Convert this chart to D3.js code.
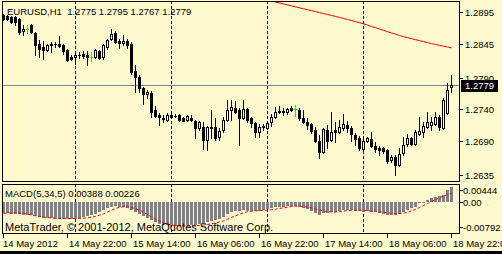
<!DOCTYPE html>
<html>
<head>
<meta charset="utf-8">
<script src="https://cdn.jsdelivr.net/npm/d3@7"></script>
<style>
  body { margin: 0; background: #fffacd; }
  svg text { font-family: "Liberation Sans", Arial, sans-serif; }
</style>
</head>
<body>
<div id="chart"></div>
<script>
// EURUSD H1, bar 0 = 14 May 2012 06:00, one bar per hour
const opens = [1.2891,1.2889,1.2888,1.2888,1.2885,1.2865,1.2869,1.2875,1.2862,1.2845,
  1.2840,1.2835,1.2845,1.2845,1.2845,1.2843,1.2835,1.2824,1.2824,1.2827,
  1.2829,1.2827,1.2824,1.2824,1.2833,1.2824,1.2840,1.2853,1.2862,1.2849,
  1.2846,1.2849,1.2845,1.2801,1.2792,1.2774,1.2765,1.2766,1.2739,1.2731,
  1.2726,1.2723,1.2731,1.2730,1.2731,1.2726,1.2723,1.2726,1.2721,1.2710,
  1.2712,1.2691,1.2712,1.2712,1.2696,1.2707,1.2723,1.2739,1.2742,1.2739,
  1.2726,1.2741,1.2726,1.2718,1.2704,1.2712,1.2710,1.2720,1.2728,1.2736,
  1.2737,1.2736,1.2742,1.2741,1.2739,1.2726,1.2720,1.2717,1.2707,1.2689,
  1.2672,1.2707,1.2691,1.2707,1.2704,1.2710,1.2715,1.2710,1.2699,1.2694,
  1.2677,1.2690,1.2692,1.2681,1.2678,1.2678,1.2675,1.2659,1.2663,1.2651,
  1.2670,1.2685,1.2694,1.2685,1.2701,1.2704,1.2712,1.2715,1.2717,1.2728,
  1.2710,1.2734,1.2775];
const highs = [1.2893,1.2891,1.2889,1.2889,1.2886,1.2875,1.2875,1.2877,1.2864,1.2851,
  1.2849,1.2845,1.2848,1.2848,1.2857,1.2845,1.2837,1.2827,1.2832,1.2832,
  1.2833,1.2833,1.2832,1.2837,1.2835,1.2845,1.2853,1.2869,1.2865,1.2853,
  1.2859,1.2853,1.2848,1.2811,1.2795,1.2775,1.2771,1.2769,1.2745,1.2734,
  1.2731,1.2734,1.2734,1.2733,1.2733,1.2728,1.2731,1.2731,1.2723,1.2721,
  1.2720,1.2713,1.2739,1.2726,1.2710,1.2728,1.2755,1.2755,1.2753,1.2742,
  1.2755,1.2742,1.2728,1.2720,1.2717,1.2717,1.2720,1.2733,1.2744,1.2745,
  1.2742,1.2742,1.2745,1.2747,1.2742,1.2739,1.2726,1.2718,1.2712,1.2699,
  1.2710,1.2715,1.2735,1.2720,1.2723,1.2733,1.2721,1.2713,1.2702,1.2697,
  1.2694,1.2695,1.2704,1.2688,1.2681,1.2680,1.2676,1.2667,1.2667,1.2678,
  1.2696,1.2701,1.2696,1.2707,1.2727,1.2720,1.2736,1.2728,1.2735,1.2731,
  1.2758,1.2782,1.2795];
const lows = [1.2883,1.2883,1.2878,1.2875,1.2861,1.2859,1.2862,1.2862,1.2827,1.2824,
  1.2821,1.2833,1.2832,1.2840,1.2840,1.2829,1.2817,1.2819,1.2813,1.2822,
  1.2822,1.2811,1.2817,1.2822,1.2821,1.2821,1.2837,1.2851,1.2846,1.2838,
  1.2843,1.2838,1.2797,1.2768,1.2768,1.2749,1.2758,1.2728,1.2727,1.2715,
  1.2720,1.2721,1.2726,1.2728,1.2721,1.2721,1.2721,1.2721,1.2694,1.2707,
  1.2677,1.2675,1.2694,1.2691,1.2691,1.2704,1.2721,1.2723,1.2734,1.2683,
  1.2725,1.2720,1.2712,1.2696,1.2696,1.2707,1.2709,1.2713,1.2726,1.2734,
  1.2731,1.2733,1.2737,1.2729,1.2723,1.2718,1.2709,1.2702,1.2688,1.2662,
  1.2670,1.2678,1.2690,1.2688,1.2702,1.2707,1.2703,1.2690,1.2683,1.2675,
  1.2670,1.2688,1.2679,1.2672,1.2667,1.2670,1.2654,1.2656,1.2635,1.2649,
  1.2667,1.2681,1.2683,1.2683,1.2699,1.2696,1.2710,1.2707,1.2715,1.2707,
  1.2708,1.2733,1.2767];
const closes = [1.2885,1.2885,1.2880,1.2880,1.2864,1.2869,1.2869,1.2864,1.2843,1.2837,
  1.2835,1.2843,1.2843,1.2844,1.2841,1.2833,1.2819,1.2821,1.2827,1.2826,
  1.2825,1.2824,1.2824,1.2835,1.2822,1.2843,1.2851,1.2861,1.2848,1.2846,
  1.2849,1.2843,1.2800,1.2792,1.2774,1.2765,1.2768,1.2736,1.2729,1.2728,
  1.2725,1.2731,1.2728,1.2729,1.2723,1.2722,1.2729,1.2723,1.2710,1.2720,
  1.2691,1.2712,1.2710,1.2694,1.2705,1.2723,1.2739,1.2744,1.2736,1.2726,
  1.2741,1.2723,1.2718,1.2704,1.2712,1.2713,1.2718,1.2728,1.2736,1.2737,
  1.2736,1.2741,1.2739,1.2741,1.2726,1.2720,1.2715,1.2705,1.2690,1.2672,
  1.2708,1.2690,1.2704,1.2703,1.2712,1.2717,1.2710,1.2701,1.2693,1.2678,
  1.2690,1.2694,1.2681,1.2676,1.2675,1.2674,1.2658,1.2664,1.2651,1.2669,
  1.2683,1.2694,1.2685,1.2704,1.2706,1.2713,1.2720,1.2720,1.2728,1.2711,
  1.2755,1.2771,1.2779];

// moving average, visible part from bar 60 on (earlier values are above the window)
const maFirstBar = 60;
const maValues = [1.29238,1.29222,1.29206,1.2919,1.29174,1.29158,1.29144,1.29129,1.29113,1.29099,
  1.29083,1.29068,1.29052,1.29038,1.29022,1.29006,1.28992,1.28976,1.28961,1.28945,
  1.28931,1.28915,1.28899,1.28884,1.28868,1.28852,1.28835,1.28819,1.28801,1.28784,
  1.28766,1.28745,1.28724,1.28704,1.28683,1.28662,1.28641,1.2862,1.286,1.28579,
  1.28561,1.28545,1.28529,1.28513,1.28497,1.28481,1.28465,1.28451,1.28436,1.28422,
  1.28409,1.28396,1.28382];

// MACD(5,34,5)
const macdMain = [-0.00292,-0.00300,-0.00305,-0.00310,-0.00318,-0.00331,-0.00337,-0.00345,-0.00371,-0.00397,
  -0.00410,-0.00423,-0.00431,-0.00437,-0.00437,-0.00437,-0.00442,-0.00442,-0.00437,-0.00423,
  -0.00397,-0.00371,-0.00345,-0.00305,-0.00266,-0.00213,-0.00160,-0.00121,-0.00108,-0.00121,
  -0.00134,-0.00147,-0.00213,-0.00266,-0.00318,-0.00371,-0.00410,-0.00476,-0.00529,-0.00568,
  -0.00594,-0.00608,-0.00615,-0.00621,-0.00621,-0.00608,-0.00594,-0.00594,-0.00594,-0.00568,
  -0.00555,-0.00529,-0.00502,-0.00476,-0.00437,-0.00384,-0.00318,-0.00266,-0.00239,-0.00239,
  -0.00213,-0.00226,-0.00239,-0.00239,-0.00226,-0.00213,-0.00187,-0.00160,-0.00134,-0.00121,
  -0.00121,-0.00108,-0.00108,-0.00108,-0.00134,-0.00160,-0.00187,-0.00226,-0.00292,-0.00331,
  -0.00292,-0.00292,-0.00266,-0.00252,-0.00239,-0.00213,-0.00213,-0.00213,-0.00226,-0.00239,
  -0.00252,-0.00239,-0.00252,-0.00266,-0.00279,-0.00305,-0.00331,-0.00345,-0.00345,-0.00305,
  -0.00252,-0.00213,-0.00168,-0.00126,-0.00037,-0.00011,0.00050,0.00095,0.00137,0.00155,
  0.00181,0.00313,0.00388];
const macdSignal = [-0.00300,-0.00292,-0.00287,-0.00284,-0.00292,-0.00305,-0.00323,-0.00345,-0.00366,-0.00384,
  -0.00397,-0.00410,-0.00423,-0.00431,-0.00437,-0.00439,-0.00439,-0.00439,-0.00437,-0.00434,
  -0.00429,-0.00418,-0.00402,-0.00384,-0.00352,-0.00313,-0.00266,-0.00218,-0.00174,-0.00142,
  -0.00129,-0.00129,-0.00147,-0.00179,-0.00218,-0.00271,-0.00331,-0.00397,-0.00458,-0.00508,
  -0.00550,-0.00581,-0.00608,-0.00623,-0.00634,-0.00639,-0.00639,-0.00634,-0.00629,-0.00621,
  -0.00608,-0.00594,-0.00576,-0.00555,-0.00529,-0.00497,-0.00458,-0.00410,-0.00366,-0.00323,
  -0.00287,-0.00260,-0.00245,-0.00234,-0.00229,-0.00224,-0.00218,-0.00208,-0.00192,-0.00174,
  -0.00155,-0.00139,-0.00124,-0.00113,-0.00113,-0.00124,-0.00139,-0.00160,-0.00187,-0.00218,
  -0.00239,-0.00255,-0.00266,-0.00266,-0.00255,-0.00239,-0.00229,-0.00221,-0.00218,-0.00218,
  -0.00224,-0.00229,-0.00237,-0.00247,-0.00260,-0.00274,-0.00287,-0.00300,-0.00308,-0.00308,
  -0.00297,-0.00274,-0.00239,-0.00195,-0.00147,-0.00095,-0.00042,0.00011,0.00060,0.00108,
  0.00150,0.00192,0.00226];

const timeTickBars = [0, 16, 32, 48, 64, 80, 96, 112];
const timeTickLabels = ["14 May 2012", "14 May 22:00", "15 May 14:00", "16 May 06:00",
  "16 May 22:00", "17 May 14:00", "18 May 06:00", "18 May 22:00"];
const daySeparatorBars = [18, 42, 66, 90];
const priceTicks = [1.2895, 1.2845, 1.2790, 1.2740, 1.2690, 1.2635];
const macdTicks = [0.00444, 0, -0.00792];
const macdTickLabels = ["0.00444", "0.00", "-0.00792"];
const symbolTitle = "EURUSD,H1";
const macdTitle = "MACD(5,34,5)";
const bidPrice = 1.2779;

// layout
const W = 502, H = 254;
const frameLeft = 2, frameRight = 459;
const mainTop = 1, mainBottom = 181;
const subTop = 184, subBottom = 233;
const bg = "#fffacd";

const svg = d3.select("#chart").append("svg")
  .attr("width", W).attr("height", H)
  .style("display", "block")
  .attr("shape-rendering", "crispEdges");

svg.append("rect").attr("width", W).attr("height", H).attr("fill", bg);

// scales
const x = d3.scaleLinear().domain([0, 112]).range([3, 451]);
const y = d3.scaleLinear().domain([1.2635, 1.2895]).range([175, 12.3]);
const ym = d3.scaleLinear().domain([-0.00792, 0.00444]).range([232, 185]);
const px = i => Math.round(x(i));
const py = v => Math.round(y(v));

svg.append("clipPath").attr("id", "mainClip")
  .append("rect").attr("x", frameLeft + 1).attr("y", mainTop + 1)
  .attr("width", frameRight - frameLeft - 1).attr("height", mainBottom - mainTop - 1);
svg.append("clipPath").attr("id", "subClip")
  .append("rect").attr("x", frameLeft + 1).attr("y", subTop + 1)
  .attr("width", frameRight - frameLeft - 1).attr("height", subBottom - subTop - 1);

const mainG = svg.append("g").attr("clip-path", "url(#mainClip)");
const subG = svg.append("g").attr("clip-path", "url(#subClip)");

// day separators, dashed, in both windows
[[mainG, mainTop, mainBottom], [subG, subTop, subBottom]].forEach(([g, t, b]) => {
  g.selectAll(".sep").data(daySeparatorBars).enter().append("line")
    .attr("class", "sep")
    .attr("x1", d => px(d) + 0.5).attr("x2", d => px(d) + 0.5)
    .attr("y1", t).attr("y2", b)
    .attr("stroke", "#000").attr("stroke-dasharray", "3,2");
});

// bid line
mainG.append("line")
  .attr("x1", frameLeft).attr("x2", frameRight)
  .attr("y1", py(bidPrice) + 0.5).attr("y2", py(bidPrice) + 0.5)
  .attr("stroke", "#778899");

// moving average
const maLine = d3.line()
  .x((d, j) => px(maFirstBar + j) + 0.5)
  .y(d => y(d));
mainG.append("path").datum(maValues)
  .attr("d", maLine)
  .attr("fill", "none").attr("stroke", "#ff0000").attr("stroke-width", 1)
  .attr("shape-rendering", "auto");

// candles
const bars = d3.range(opens.length).map(i => ({
  i: i, o: opens[i], h: highs[i], l: lows[i], c: closes[i]
}));
const candle = mainG.selectAll(".candle").data(bars).enter().append("g").attr("class", "candle");

candle.append("line")
  .attr("x1", d => px(d.i) + 0.5).attr("x2", d => px(d.i) + 0.5)
  .attr("y1", d => py(d.h)).attr("y2", d => py(d.l) + 1)
  .attr("stroke", d => d.o === d.c ? "#00ff00" : "#000");

candle.each(function(d) {
  const g = d3.select(this);
  const cx = px(d.i);
  if (d.o === d.c) {
    g.append("line")
      .attr("x1", cx - 1).attr("x2", cx + 2)
      .attr("y1", py(d.o) + 0.5).attr("y2", py(d.o) + 0.5)
      .attr("stroke", "#00ff00");
  } else if (d.c < d.o) {
    const top = py(d.o), bot = py(d.c);
    g.append("rect")
      .attr("x", cx - 1).attr("width", 3)
      .attr("y", top).attr("height", Math.max(1, bot - top + 1))
      .attr("fill", "#000");
  } else {
    const top = py(d.c), bot = py(d.o);
    g.append("rect")
      .attr("x", cx - 0.5).attr("width", 2)
      .attr("y", top + 0.5).attr("height", Math.max(0, bot - top))
      .attr("fill", "#fff").attr("stroke", "#000");
  }
});

// MACD histogram
subG.selectAll(".hist").data(macdMain).enter().append("rect")
  .attr("class", "hist")
  .attr("x", (d, i) => px(i) - 1).attr("width", 3)
  .attr("y", d => Math.round(Math.min(ym(0), ym(d))))
  .attr("height", d => Math.max(1, Math.round(Math.abs(ym(d) - ym(0)))))
  .attr("fill", "#808080");

// MACD signal, dotted red
subG.append("path").datum(macdSignal)
  .attr("d", d3.line().x((d, i) => px(i) + 0.5).y(d => ym(d)))
  .attr("fill", "none").attr("stroke", "#ff0000")
  .attr("stroke-dasharray", "3,2").attr("shape-rendering", "auto");

// frames
svg.append("rect")
  .attr("x", frameLeft + 0.5).attr("y", mainTop + 0.5)
  .attr("width", frameRight - frameLeft).attr("height", mainBottom - mainTop)
  .attr("fill", "none").attr("stroke", "#000");
svg.append("rect")
  .attr("x", frameLeft + 0.5).attr("y", subTop + 0.5)
  .attr("width", frameRight - frameLeft).attr("height", subBottom - subTop)
  .attr("fill", "none").attr("stroke", "#000");

// texts inside windows
svg.append("text").attr("x", 7).attr("y", 15)
  .attr("font-size", "9.5px")
  .attr("xml:space", "preserve")
  .text(symbolTitle + "  " + [opens[112], highs[112], lows[112], closes[112]].map(d3.format(".4f")).join(" "));

svg.append("text").attr("x", 5).attr("y", 196.5)
  .attr("font-size", "9.5px")
  .text(macdTitle + " " + d3.format(".5f")(macdMain[112]) + " " + d3.format(".5f")(macdSignal[112]));

svg.append("text").attr("x", 5).attr("y", 231)
  .attr("font-size", "11px")
  .text("MetaTrader, \u00a9 2001-2012, MetaQuotes Software Corp.");

// price axis
const pAxis = svg.append("g");
pAxis.selectAll("line").data(priceTicks).enter().append("line")
  .attr("x1", frameRight + 1).attr("x2", frameRight + 4)
  .attr("y1", d => py(d) + 0.5).attr("y2", d => py(d) + 0.5)
  .attr("stroke", "#000");
pAxis.selectAll("text").data(priceTicks).enter().append("text")
  .attr("x", 465).attr("y", d => py(d) + 3.5)
  .attr("font-size", "9.5px")
  .text(d => d3.format(".4f")(d));

// bid price box
svg.append("rect")
  .attr("x", frameRight + 2).attr("y", py(bidPrice) - 5)
  .attr("width", 37).attr("height", 12)
  .attr("fill", "#000");
svg.append("text")
  .attr("x", 465).attr("y", py(bidPrice) + 4)
  .attr("font-size", "9.5px").attr("fill", "#fff")
  .text(d3.format(".4f")(bidPrice));

// MACD axis
const labelShift = [5, 0, -5];
const mAxis = svg.append("g");
mAxis.selectAll("line").data(macdTicks).enter().append("line")
  .attr("x1", frameRight + 1).attr("x2", frameRight + 4)
  .attr("y1", (d, k) => Math.round(ym(d) + labelShift[k]) + 0.5)
  .attr("y2", (d, k) => Math.round(ym(d) + labelShift[k]) + 0.5)
  .attr("stroke", "#000");
mAxis.selectAll("text").data(macdTicks).enter().append("text")
  .attr("x", 463).attr("y", (d, k) => Math.round(ym(d) + labelShift[k]) + 3.5)
  .attr("font-size", "9.5px")
  .text((d, k) => macdTickLabels[k]);

// time axis
const tAxis = svg.append("g");
tAxis.selectAll("line").data(timeTickBars).enter().append("line")
  .attr("x1", d => px(d) + 0.5).attr("x2", d => px(d) + 0.5)
  .attr("y1", subBottom + 1).attr("y2", subBottom + 5)
  .attr("stroke", "#000");
tAxis.selectAll("text").data(timeTickBars).enter().append("text")
  .attr("x", (d, k) => k === 0 ? px(d) : px(d) + 2)
  .attr("y", 246.5)
  .attr("font-size", "9.5px")
  .text((d, k) => timeTickLabels[k]);

// dark strip at the bottom of the window
svg.append("rect").attr("x", 0).attr("y", 251).attr("width", W).attr("height", H - 251)
  .attr("fill", "#000");
</script>
</body>
</html>
